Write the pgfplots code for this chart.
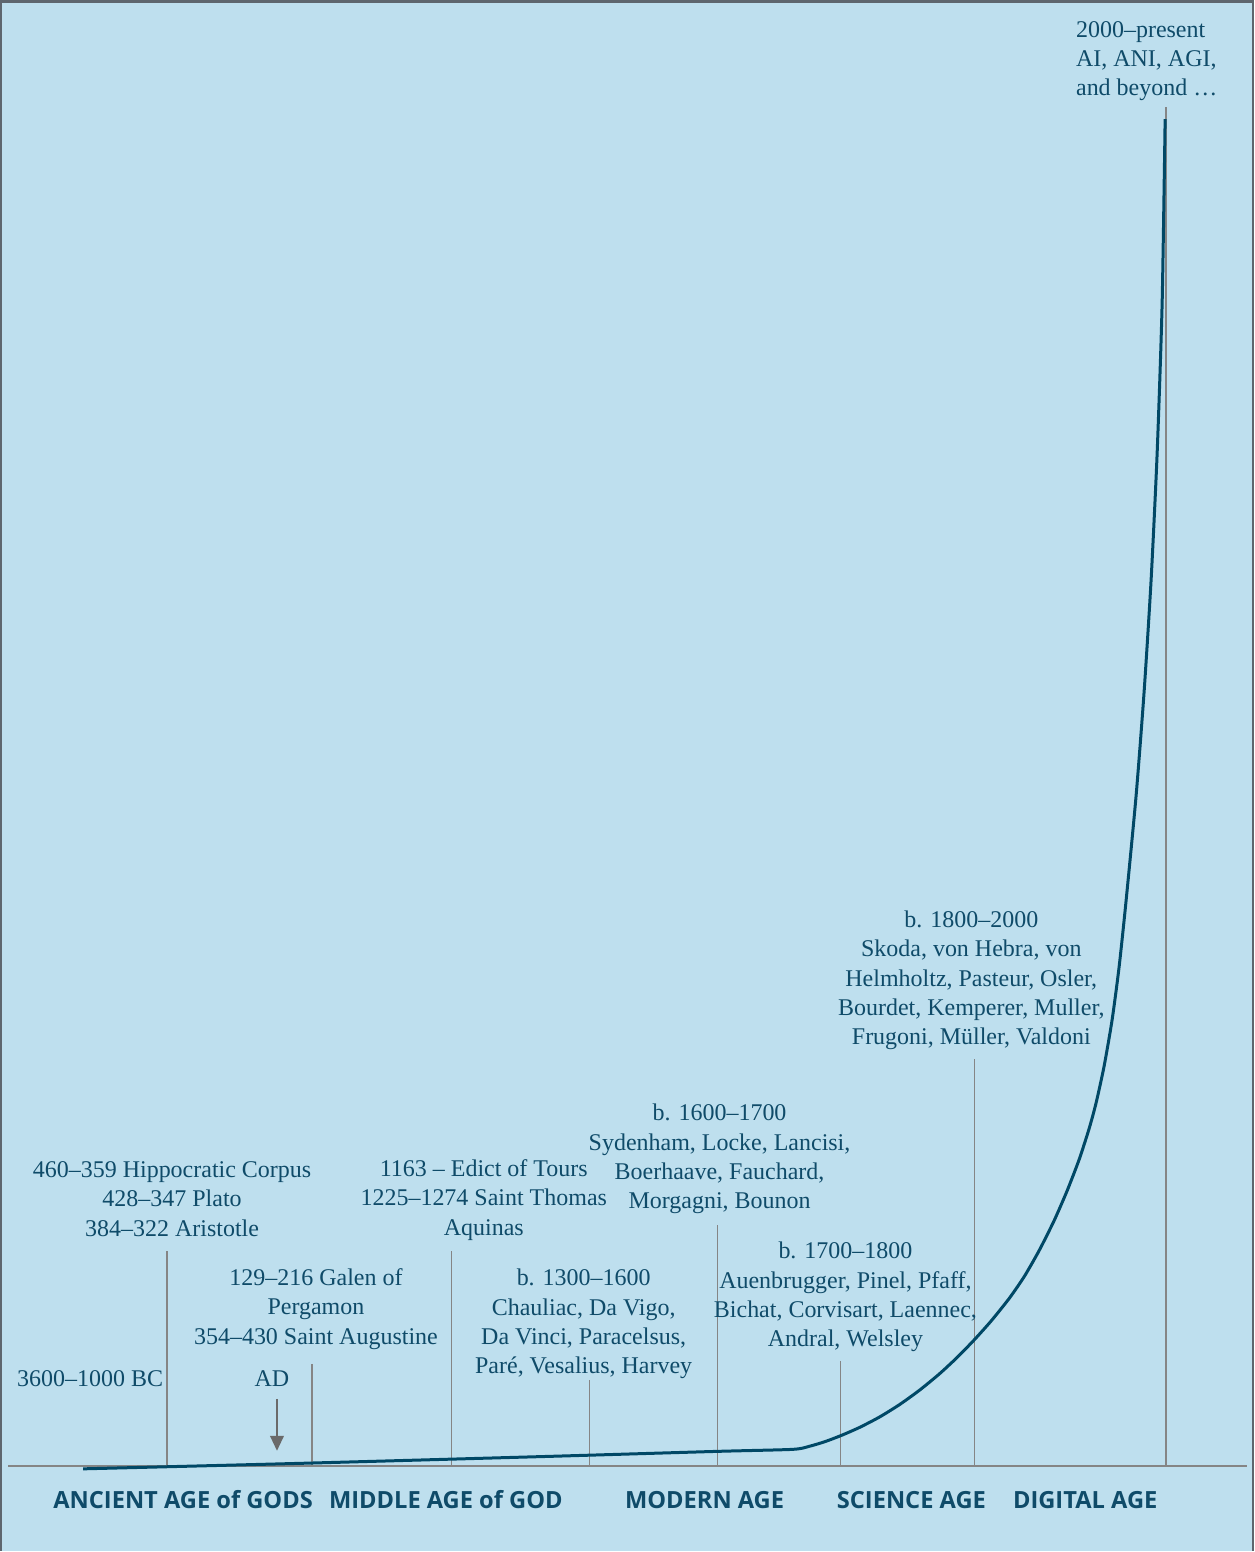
\documentclass[border=0pt]{standalone}
\usepackage{pgfplots}
\pgfplotsset{compat=1.18}
\usepackage{fontspec}
\setmainfont{Liberation Serif}
\newfontfamily\opensans{Open Sans}
\usetikzlibrary{arrows.meta}
\definecolor{bg}{HTML}{BEDFEE}
\definecolor{txt}{HTML}{0F4B69}
\definecolor{curve}{HTML}{004866}
\definecolor{vline}{HTML}{858585}
\definecolor{frame}{HTML}{5E666E}
\definecolor{arrowc}{HTML}{6A6A6A}
\tikzset{
  lab/.style={align=center, text=txt, font=\fontsize{14.4}{17.6}\selectfont},
  age/.style={text=txt, font=\opensans\bfseries\fontsize{14.2}{17}\selectfont},
}
\begin{document}
\begin{tikzpicture}
\begin{axis}[
  width=753pt, height=931.2pt, scale only axis,
  xmin=0, xmax=1255, ymin=0, ymax=1552, y dir=reverse,
  axis lines=none, ticks=none, clip=false,
  axis background/.style={fill=bg},
]
% frame
\draw[frame, line width=1.5pt] (axis cs:1,1552) -- (axis cs:1,1) -- (axis cs:1254,1) -- (axis cs:1254,1552);
% baseline
\addplot[vline, line width=1pt] coordinates {(8,1467) (1248,1467)};
% vertical lines
\addplot[vline, line width=0.8pt] coordinates {(167,1252) (167,1467)};
\addplot[vline, line width=0.8pt] coordinates {(312,1365) (312,1467)};
\addplot[vline, line width=0.8pt] coordinates {(452,1252) (452,1467)};
\addplot[vline, line width=0.8pt] coordinates {(590,1381) (590,1467)};
\addplot[vline, line width=0.8pt] coordinates {(718,1226) (718,1467)};
\addplot[vline, line width=0.8pt] coordinates {(841,1362) (841,1467)};
\addplot[vline, line width=0.8pt] coordinates {(975,1060) (975,1467)};
\addplot[vline, line width=0.8pt] coordinates {(1167,107) (1167,1467)};
% arrow
\addplot[arrowc, line width=1.6pt, -{Triangle[length=9pt,width=8pt]}] coordinates {(277,1400) (277,1452)};
% curve
\addplot[curve, line width=1.8pt, smooth, tension=0.4] coordinates {
(83,1470) (300,1464.5) (550,1457.5) (718,1452.5) (793,1450.5)
(810,1447.4) (826,1442.6) (842,1436.5) (860,1428.6) (880,1418.2) (900,1405.8)
(920,1391.4) (940,1375) (958,1358.3) (975,1340.8) (992,1321.8) (1010,1299.3)
(1025,1277.5) (1040,1251.3) (1055,1221.3) (1068,1191.4) (1080,1160.2)
(1090,1129.2) (1097,1103.3) (1105,1066.5) (1113,1020.1) (1120,967) (1127,900.5)
(1137,795.5) (1145,691.5) (1152,579.5) (1158,453.5) (1163,303.5) (1166,119)};
% labels
\node[lab] at (axis cs:172,1200) {460--359 Hippocratic Corpus\\428--347 Plato\\384--322 Aristotle};
\node[lab] at (axis cs:90,1380) {3600--1000 BC};
\node[lab] at (axis cs:316,1310) {129--216 Galen of\\Pergamon\\354--430 Saint Augustine};
\node[lab] at (axis cs:272,1380) {AD};
\node[lab] at (axis cs:484,1201) {1163 -- Edict of Tours\\1225--1274 Saint Thomas\\Aquinas};
\node[lab] at (axis cs:584,1325) {b. 1300--1600\\Chauliac, Da Vigo,\\Da Vinci, Paracelsus,\\Paré, Vesalius, Harvey};
\node[lab] at (axis cs:720,1160) {b. 1600--1700\\Sydenham, Locke, Lancisi,\\Boerhaave, Fauchard,\\Morgagni, Bounon};
\node[lab] at (axis cs:846,1298) {b. 1700--1800\\Auenbrugger, Pinel, Pfaff,\\Bichat, Corvisart, Laennec,\\Andral, Welsley};
\node[lab] at (axis cs:972,981) {b. 1800--2000\\Skoda, von Hebra, von\\Helmholtz, Pasteur, Osler,\\Bourdet, Kemperer, Muller,\\Frugoni, Müller, Valdoni};
\node[lab, align=left, anchor=west] at (axis cs:1071,61) {2000--present\\AI, ANI, AGI,\\and beyond \dots};
% age labels
\node[age] at (axis cs:183,1501) {ANCIENT AGE of GODS};
\node[age] at (axis cs:446,1501) {MIDDLE AGE of GOD};
\node[age] at (axis cs:705,1501) {MODERN AGE};
\node[age] at (axis cs:912,1501) {SCIENCE AGE};
\node[age] at (axis cs:1086,1501) {DIGITAL AGE};
\end{axis}
\end{tikzpicture}
\end{document}
